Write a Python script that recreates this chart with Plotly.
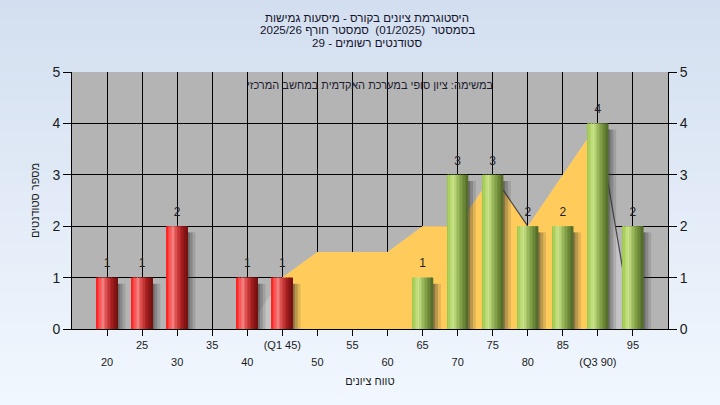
import plotly.graph_objects as go

# ---------------- data ----------------
scores = [20, 25, 30, 35, 40, 45, 50, 55, 60, 65, 70, 75, 80, 85, 90, 95]
tick_labels = ["20", "25", "30", "35", "40", "(Q1 45)", "50", "55", "60", "65",
               "70", "75", "80", "85", "(Q3 90)", "95"]
counts = [1, 1, 2, 0, 1, 1, 0, 0, 0, 1, 3, 3, 2, 2, 4, 2]

area_scores = [40, 45, 50, 55, 60, 65, 70, 75, 80, 85, 90, 95]
area_values = [0, 1, 1.5, 1.5, 1.5, 2, 2, 3, 2, 3, 4, 0]
q1, q3 = 45, 90
pass_mark = 55
edge_segments = [(75, 80), (90, 95)]

title_lines = ["היסטוגרמת ציונים בקורס - מיסעות גמישות",
               "בסמסטר  (01/2025)  סמסטר חורף 2025/26",
               "סטודנטים רשומים - 29"]
note_text = "במשימה: ציון סופי במערכת האקדמית במחשב המרכזי"
x_title = "טווח ציונים"
y_title = "מספר סטודנטים"

# ---------------- helpers ----------------
FONT = "Liberation Sans, Arial, sans-serif"
W, H = 720, 405
ML, MR, MT, MB = 72, 52, 72, 76
PH = H - MT - MB
PW = W - ML - MR
pos = {s: i for i, s in enumerate(scores)}
idx = [pos[s] for s in scores]


def py(p):
    """pixel row -> paper y"""
    return (H - MB - p) / PH


def px(p):
    """pixel column -> paper x"""
    return (p - ML) / PW


def lerp_profile(profile, t):
    for (t0, c0), (t1, c1) in zip(profile, profile[1:]):
        if t0 <= t <= t1:
            f = (t - t0) / (t1 - t0) if t1 > t0 else 0
            return "rgb(%d,%d,%d)" % tuple(round(a + (b - a) * f) for a, b in zip(c0, c1))
    return "rgb(%d,%d,%d)" % profile[-1][1]


red_profile = [(0, (255, 24, 24)), (0.15, (250, 80, 80)), (0.32, (242, 126, 126)),
               (0.5, (214, 68, 68)), (0.75, (162, 30, 30)), (1, (112, 14, 14))]
green_profile = [(0, (150, 196, 66)), (0.15, (178, 212, 104)), (0.32, (202, 226, 138)),
                 (0.5, (160, 190, 96)), (0.75, (116, 146, 60)), (1, (80, 104, 40))]

fig = go.Figure()

# ---------------- area (base subplot, drawn below bars) ----------------
a_idx = [pos[s] for s in area_scores]
fig.add_trace(go.Scatter(x=a_idx, y=area_values, mode="lines", fill="tozeroy",
                         fillcolor="rgb(196,196,196)", line=dict(width=0),
                         hoverinfo="skip", showlegend=False, xaxis="x", yaxis="y"))
iq_x = [pos[s] for s in area_scores if q1 <= s <= q3]
iq_y = [v for s, v in zip(area_scores, area_values) if q1 <= s <= q3]
fig.add_trace(go.Scatter(x=iq_x, y=iq_y, mode="lines", fill="tozeroy",
                         fillcolor="rgb(255,204,92)", line=dict(width=0),
                         hoverinfo="skip", showlegend=False, xaxis="x", yaxis="y"))
ex, ey = [], []
for s0, s1 in edge_segments:
    ex += [pos[s0], pos[s1], None]
    ey += [area_values[area_scores.index(s0)], area_values[area_scores.index(s1)], None]
fig.add_trace(go.Scatter(x=ex, y=ey, mode="lines", line=dict(color="rgba(50,50,50,0.85)", width=1.2),
                         hoverinfo="skip", showlegend=False, xaxis="x", yaxis="y"))

# ---------------- bars (overlay subplot) ----------------
half = 0.3
shadow_layers = [(half - 0.02, 0.08, 0.55), (half + 0.06, 0.08, 0.33), (half + 0.14, 0.08, 0.14)]
shadow_y = [max(c - 0.12, 0) if c > 0 else 0 for c in counts]
for off, w, op in shadow_layers:
    fig.add_trace(go.Bar(x=idx, y=shadow_y, offset=off, width=w,
                         marker=dict(color="rgba(45,45,45,%.2f)" % op, line=dict(width=0)),
                         hoverinfo="skip", showlegend=False, xaxis="x2", yaxis="y2"))

n_slices = 14
sw = 2 * half / n_slices
for k in range(n_slices):
    t = (k + 0.5) / n_slices
    cols = [lerp_profile(red_profile if s < pass_mark else green_profile, t) for s in scores]
    fig.add_trace(go.Bar(x=idx, y=counts, offset=-half + k * sw, width=sw * 1.1,
                         marker=dict(color=cols, line=dict(width=0)),
                         hoverinfo="skip", showlegend=False, xaxis="x2", yaxis="y2"))

lab_x = [i for i, c in zip(idx, counts) if c > 0]
lab_v = [c for c in counts if c > 0]
fig.add_trace(go.Scatter(x=lab_x, y=[v + 0.14 for v in lab_v], mode="text",
                         text=[str(c) for c in lab_v], textposition="top center",
                         textfont=dict(family=FONT, size=12, color="#1c1c28"),
                         cliponaxis=False, hoverinfo="skip", showlegend=False,
                         xaxis="x2", yaxis="y2"))

# ---------------- background gradient ----------------
shapes = []
nb = 40
top_c, bot_c = (211, 223, 240), (241, 247, 254)
y0p, y1p = -MB / PH, 1 + MT / PH
x0p, x1p = -ML / PW, 1 + MR / PW
for b in range(nb):
    f = b / (nb - 1)
    c = tuple(round(tc + (bc - tc) * f) for tc, bc in zip(top_c, bot_c))
    ya = y1p - (y1p - y0p) * b / nb
    yb = y1p - (y1p - y0p) * (b + 1) / nb
    shapes.append(dict(type="rect", xref="paper", yref="paper", x0=x0p, x1=x1p,
                       y0=yb - 0.002, y1=ya + 0.002, layer="below",
                       fillcolor="rgb(%d,%d,%d)" % c, line=dict(width=0)))
shapes.append(dict(type="rect", xref="paper", yref="paper", x0=0, x1=1, y0=0, y1=1,
                   layer="below", fillcolor="rgb(180,180,180)", line=dict(width=0)))

annotations = []
for line, p in zip(title_lines, [17, 30, 43]):
    annotations.append(dict(text=line, xref="paper", yref="paper",
                            x=px(367), y=py(p),
                            xanchor="center", yanchor="middle", showarrow=False,
                            font=dict(family=FONT, size=11.6, color="#14142a")))
annotations.append(dict(text=note_text, xref="paper", yref="paper", x=0.5, y=py(85),
                        xanchor="center", yanchor="middle", showarrow=False,
                        font=dict(family=FONT, size=11, color="#1c1c30")))

axis_font = dict(family=FONT, size=11, color="#1a1a1a")
fig.update_layout(
    width=W, height=H,
    margin=dict(l=ML, r=MR, t=MT, b=MB),
    paper_bgcolor="rgb(226,235,247)",
    plot_bgcolor="rgb(180,180,180)",
    barmode="overlay",
    showlegend=False,
    shapes=shapes,
    annotations=annotations,
    font=dict(family=FONT, color="#1a1a1a"),
    xaxis=dict(range=[-1, 16], tickmode="array", tickvals=idx,
               ticktext=[lab if i % 2 == 1 else "" for i, lab in enumerate(tick_labels)],
               ticks="outside", ticklen=6, tickcolor="black",
               showgrid=True, gridcolor="black", gridwidth=1,
               showline=True, linecolor="black", linewidth=1, zeroline=False,
               tickfont=axis_font, fixedrange=True),
    xaxis2=dict(overlaying="x", anchor="y2", side="bottom", range=[-1, 16],
                tickmode="array", tickvals=[i for i in idx if i % 2 == 0],
                ticktext=[lab for i, lab in enumerate(tick_labels) if i % 2 == 0],
                ticks="outside", ticklen=23, tickcolor="rgba(0,0,0,0)",
                showgrid=False, showline=False, zeroline=False,
                tickfont=axis_font,
                title=dict(text=x_title, standoff=10, font=dict(family=FONT, size=11, color="#1a1a1a"))),
    yaxis=dict(range=[0, 5], dtick=1, ticks="outside", ticklen=8, tickcolor="black",
               showgrid=True, gridcolor="black", gridwidth=1,
               showline=True, linecolor="black", linewidth=1, zeroline=False,
               tickfont=dict(family=FONT, size=14, color="#1a1a1a"),
               title=dict(text=y_title, standoff=10, font=dict(family=FONT, size=11, color="#1a1a1a"))),
    yaxis2=dict(overlaying="y", anchor="x2", side="right", range=[0, 5], dtick=1,
                ticks="outside", ticklen=8, tickcolor="black",
                showgrid=False, showline=True, linecolor="black", linewidth=1, zeroline=False,
                tickfont=dict(family=FONT, size=14, color="#1a1a1a")),
)

fig.write_html("out.html", config={"displayModeBar": False},
               post_script="document.body.style.margin='0';document.body.style.padding='0';")
